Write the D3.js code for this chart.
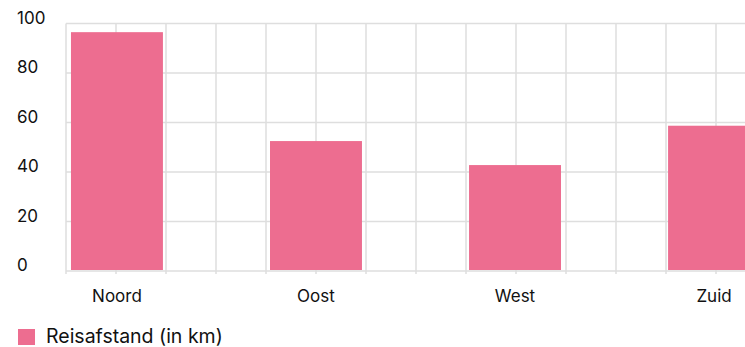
<!DOCTYPE html>
<html>
<head>
<meta charset="utf-8">
<script src="https://cdn.jsdelivr.net/npm/d3@7"></script>
<style>
  body { margin: 0; background: #fff; }
  svg { display: block; font-family: Inter, "Noto Sans", sans-serif; }
</style>
</head>
<body>
<svg id="chart"></svg>
<script>
const categories = ["Noord", "Oost", "West", "Zuid"];
const values = [96.5, 52.5, 42.8, 58.7];
const yTicks = [0, 20, 40, 60, 80, 100];
const seriesName = "Reisafstand (in km)";

const width = 745;
const height = 347;
const plotLeft = 66;
const plotTop = 23.5;
const plotBottom = 271;

const svg = d3.select("#chart").attr("width", width).attr("height", height);

const yScale = d3.scaleLinear().domain([0, 100]).range([plotBottom, plotTop]);

// category bands run past the right edge, like the original
const xScale = d3.scaleBand()
  .domain(categories)
  .range([plotLeft, plotLeft + 699])
  .paddingInner(0.538)
  .paddingOuter(0.025);

// vertical grid every 50px
const gridScale = d3.scaleLinear().domain([0, 14]).range([plotLeft, plotLeft + 700]);

const grid = svg.append("g").attr("stroke", "#dedede").attr("stroke-width", 1.5);

grid.selectAll(".hgrid")
  .data(yTicks)
  .enter()
  .append("line")
  .attr("x1", plotLeft)
  .attr("x2", width)
  .attr("y1", (d) => yScale(d))
  .attr("y2", (d) => yScale(d));

grid.selectAll(".vgrid")
  .data(d3.range(0, 15))
  .enter()
  .append("line")
  .attr("x1", (d) => gridScale(d))
  .attr("x2", (d) => gridScale(d))
  .attr("y1", plotTop)
  .attr("y2", plotBottom + 3);

// y labels
svg.append("g")
  .selectAll("text")
  .data(yTicks)
  .enter()
  .append("text")
  .attr("x", 17)
  .attr("y", (d) => yScale(d) - 5.5)
  .attr("dy", "0.35em")
  .attr("font-size", 17)
  .attr("fill", "#111")
  .text((d) => d);

// bars
svg.append("g")
  .selectAll("rect")
  .data(values)
  .enter()
  .append("rect")
  .attr("x", (d, i) => xScale(categories[i]))
  .attr("y", (d) => yScale(d))
  .attr("width", xScale.bandwidth())
  .attr("height", (d) => yScale(0) - 1 - yScale(d))
  .attr("fill", "#ed6d90");

// x labels
svg.append("g")
  .selectAll("text")
  .data(categories)
  .enter()
  .append("text")
  .attr("x", (d) => xScale(d) + xScale.bandwidth() / 2)
  .attr("y", 296.5)
  .attr("dy", "0.35em")
  .attr("text-anchor", "middle")
  .attr("font-size", 17)
  .attr("fill", "#111")
  .text((d) => d);

// legend
const legend = svg.append("g").attr("transform", "translate(18, 329)");
legend.append("rect").attr("width", 17).attr("height", 16).attr("fill", "#ed6d90");
legend.append("text")
  .attr("x", 28)
  .attr("y", 7.5)
  .attr("dy", "0.35em")
  .attr("font-size", 19.5)
  .attr("fill", "#111")
  .text(seriesName);
</script>
</body>
</html>
